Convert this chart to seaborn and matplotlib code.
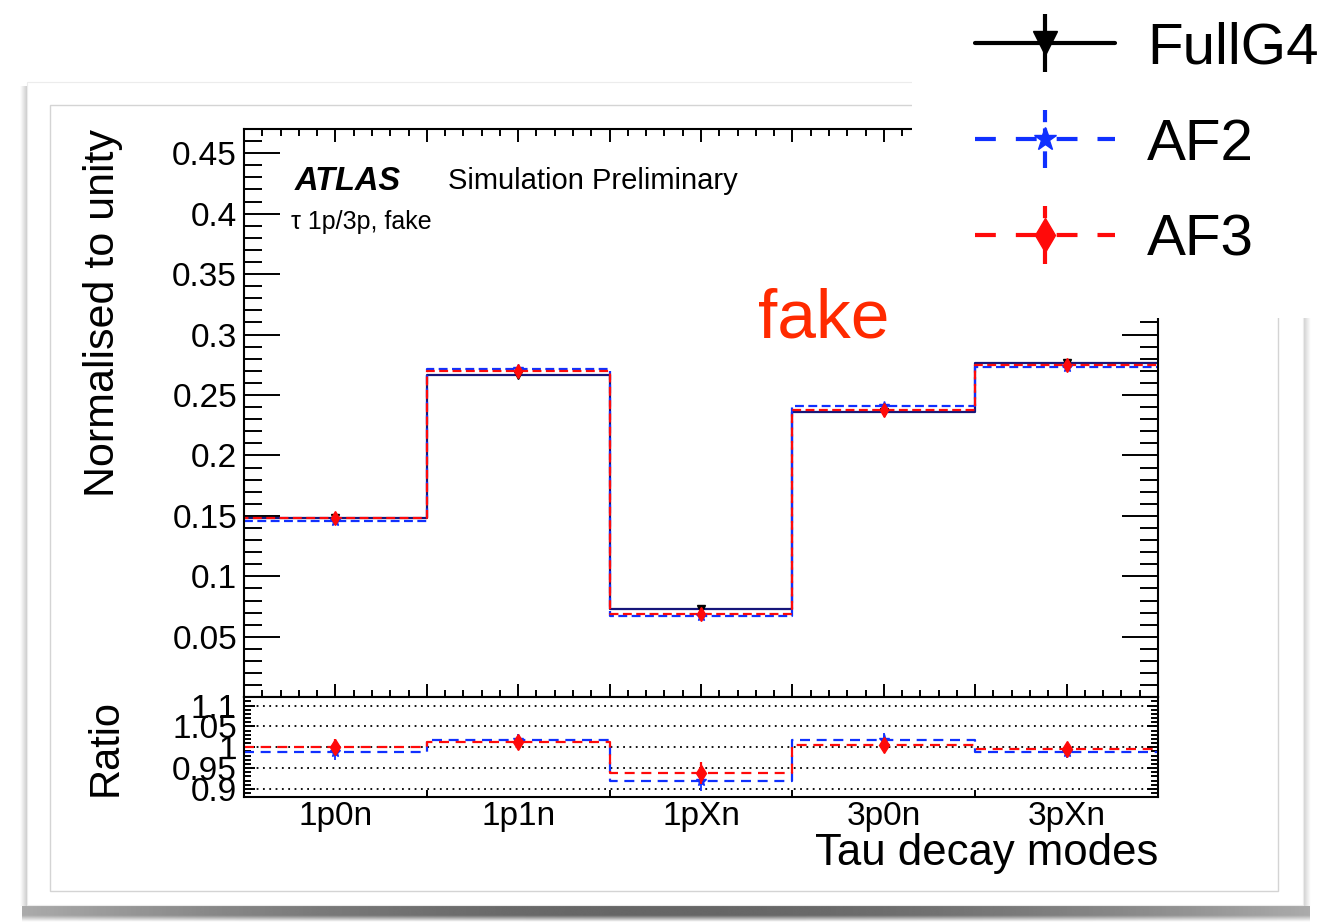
import numpy as np
import pandas as pd
import matplotlib
matplotlib.use("Agg")
import matplotlib.pyplot as plt
from matplotlib.ticker import MultipleLocator, FuncFormatter
from matplotlib.patches import Rectangle
import seaborn as sns

# ---------------------------------------------------------------- data
modes = ["1p0n", "1p1n", "1pXn", "3p0n", "3pXn"]

fullg4 = [0.1480, 0.2665, 0.0731, 0.2362, 0.2762]
af2 = [0.1462, 0.2713, 0.0671, 0.2405, 0.2733]
af3 = [0.1480, 0.2702, 0.0686, 0.2376, 0.2748]

fullg4_err = [0.0016, 0.0020, 0.0012, 0.0019, 0.0020]
af2_err = [0.0016, 0.0021, 0.0011, 0.0019, 0.0020]
af3_err = [0.0016, 0.0021, 0.0012, 0.0019, 0.0020]

ratio_af2_err = [0.018, 0.014, 0.022, 0.015, 0.014]
ratio_af3_err = [0.019, 0.014, 0.026, 0.014, 0.013]

legend_labels = ["FullG4", "AF2", "AF3"]

# ---------------------------------------------------------------- style
sns.set_style("ticks")
plt.rcParams["font.family"] = ["Liberation Sans", "DejaVu Sans"]
plt.rcParams["axes.linewidth"] = 1.5
for key in ("text.color", "axes.labelcolor", "xtick.color", "ytick.color",
            "axes.edgecolor"):
    plt.rcParams[key] = "black"

C_G4 = "#16167a"
C_AF2 = "#1030ff"
C_AF3 = "#ff0a0a"
C_FAKE = "#ff2a00"

W, H = 1322, 923
fig = plt.figure(figsize=(W / 100, H / 100), dpi=100)
fig.patch.set_facecolor("white")

# ---------------------------------------------------------------- card with drop shadow
bg = fig.add_axes([0, 0, 1, 1], zorder=-5)
bg.set_xlim(0, W)
bg.set_ylim(H, 0)
bg.axis("off")

v = np.linspace(0, 1, 40)[:, None]
hz = np.linspace(-1, 1, 300)[None, :]
pv = np.clip((1 - v) / 0.35, 0, 1)
ph = 0.55 + 0.45 * (1 - hz ** 2)
bottom_shadow = 1 - 0.6 * pv * ph
bg.imshow(bottom_shadow, cmap="gray", vmin=0, vmax=1, extent=(22, 1310, 922, 903),
          aspect="auto", interpolation="bilinear", zorder=1)
side = np.linspace(1.0, 0.78, 20)[None, :]
bg.imshow(side, cmap="gray", vmin=0, vmax=1, extent=(20, 28, 906, 86),
          aspect="auto", interpolation="bilinear", zorder=1)
bg.imshow(side[:, ::-1], cmap="gray", vmin=0, vmax=1, extent=(1302, 1311, 906, 86),
          aspect="auto", interpolation="bilinear", zorder=1)
bg.add_patch(Rectangle((27, 82), 1276, 823, facecolor="white", edgecolor="#ececec",
                       linewidth=0.8, zorder=2))
bg.add_patch(Rectangle((50, 105), 1228, 786, facecolor="none", edgecolor="#d4d4d4",
                       linewidth=1.0, zorder=3))

# ---------------------------------------------------------------- axes
ax = fig.add_axes([244 / W, 1 - 697.3 / H, 914 / W, 568.3 / H])
axr = fig.add_axes([244 / W, 1 - 797.3 / H, 914 / W, 100 / H])

edges = list(range(len(modes) + 1))
centers = [e + 0.5 for e in edges[:-1]]

g4 = np.array(fullg4)
hist_df = pd.DataFrame({
    "pos": centers,
    "fullg4": fullg4,
    "af2": af2,
    "af3": af3,
    "ratio_af2": np.array(af2) / g4,
    "ratio_af3": np.array(af3) / g4,
})


def step_hist(axis, column, color, **kws):
    sns.histplot(data=hist_df, x="pos", weights=column, bins=edges, element="step",
                 fill=False, color=color, linewidth=1.6, ax=axis, **kws)


# main panel: normalised distributions
step_hist(ax, "fullg4", C_G4)
step_hist(ax, "af2", C_AF2, linestyle=(0, (4, 2)))
step_hist(ax, "af3", C_AF3, linestyle=(2, (4, 2)))

ax.errorbar(centers, fullg4, yerr=fullg4_err, fmt="v", color="black", ms=6,
            elinewidth=1.4, capsize=0, zorder=5)
ax.errorbar(centers, af2, yerr=af2_err, fmt="*", color=C_AF2, ms=7,
            elinewidth=1.4, capsize=0, zorder=6)
ax.errorbar(centers, af3, yerr=af3_err, fmt="d", color=C_AF3, ms=7,
            elinewidth=1.4, capsize=0, zorder=7)

ax.set_xlim(0, 5)
ax.set_ylim(0, 0.47)
ax.xaxis.set_major_locator(MultipleLocator(0.5))
ax.xaxis.set_minor_locator(MultipleLocator(0.1))
ax.yaxis.set_major_locator(MultipleLocator(0.05))
ax.yaxis.set_minor_locator(MultipleLocator(0.01))
ax.yaxis.set_major_formatter(FuncFormatter(
    lambda val, pos: "" if abs(val) < 1e-9 else f"{round(val, 3):g}"))
ax.tick_params(which="both", direction="in", top=True, right=True, bottom=True, left=True,
               width=1.4, color="black", labelcolor="black")
ax.tick_params(axis="x", which="major", length=9.5, labelbottom=False)
ax.tick_params(axis="x", which="minor", length=5)
ax.tick_params(axis="y", which="major", length=26, labelsize=24, pad=5)
ax.tick_params(axis="y", which="minor", length=13)
ax.set_xlabel("")
ax.set_ylabel("Normalised to unity", fontsize=31, loc="top", color="black")
ax.yaxis.set_label_coords(-0.154, 1.0)
ax.yaxis.label.set_va("center")
for s in ax.spines.values():
    s.set_visible(True)
    s.set_linewidth(1.5)
    s.set_color("black")

ax.text(0.0558, 0.908, "ATLAS", transform=ax.transAxes, fontsize=23.5, color="black",
        fontweight="bold", fontstyle="italic", va="center", ha="left")
ax.text(0.2232, 0.908, "Simulation Preliminary", transform=ax.transAxes, fontsize=21,
        color="black", va="center", ha="left")
ax.text(0.0514, 0.8364, "\u03c4 1p/3p, fake", transform=ax.transAxes, fontsize=18,
        color="black", va="center", ha="left")

# ratio panel
axr.set_axisbelow(True)
axr.grid(axis="y", which="major", linestyle=(0, (1, 2.5)), color="black", linewidth=1.3)
step_hist(axr, "ratio_af2", C_AF2, linestyle=(0, (4.5, 3)))
step_hist(axr, "ratio_af3", C_AF3, linestyle=(0, (4.5, 3)))
axr.errorbar(centers, hist_df["ratio_af2"], yerr=ratio_af2_err, fmt="*", color=C_AF2, ms=8,
             elinewidth=1.3, capsize=0, zorder=5)
axr.errorbar(centers, hist_df["ratio_af3"], yerr=ratio_af3_err, fmt="d", color=C_AF3, ms=8,
             elinewidth=1.6, capsize=0, zorder=6)

axr.set_xlim(0, 5)
axr.set_ylim(0.88, 1.12)
axr.set_xticks(edges)
axr.set_xticks(centers, labels=modes, minor=True)
axr.yaxis.set_major_locator(MultipleLocator(0.05))
axr.yaxis.set_minor_locator(MultipleLocator(0.01))
axr.yaxis.set_major_formatter(FuncFormatter(lambda val, pos: f"{round(val, 3):g}"))
axr.tick_params(which="both", direction="in", width=1.4, color="black", labelcolor="black")
axr.tick_params(axis="x", which="major", length=5, bottom=True, top=False, labelbottom=False)
axr.tick_params(axis="x", which="minor", length=0, bottom=False, top=False,
                labelbottom=True, labelsize=24, pad=3)
axr.tick_params(axis="y", which="major", length=8, left=True, right=True, labelsize=24, pad=5)
axr.tick_params(axis="y", which="minor", length=5, left=True, right=True)
axr.set_xlabel("Tau decay modes", fontsize=31.5, loc="right", color="black")
axr.xaxis.set_label_coords(1.0, -0.567)
axr.xaxis.label.set_va("center")
axr.set_ylabel("Ratio", fontsize=30, color="black")
axr.yaxis.set_label_coords(-0.151, 0.5)
axr.yaxis.label.set_va("center")
for s in axr.spines.values():
    s.set_visible(True)
    s.set_linewidth(1.5)
    s.set_color("black")

fig.text(758 / W, 1 - 338 / H, "fake", color=C_FAKE, fontsize=50, ha="left", va="baseline")

# ---------------------------------------------------------------- legend panel
lax = fig.add_axes([912 / W, 1 - 318 / H, 410 / W, 318 / H], zorder=20)
lax.set_facecolor("white")
lax.set_xlim(0, 1)
lax.set_ylim(0, 1)
lax.set_xticks([])
lax.set_yticks([])
for s in lax.spines.values():
    s.set_visible(False)

h_g4 = lax.errorbar([5], [5], yerr=[0.1], fmt="-v", color="black", lw=3, ms=17,
                    elinewidth=3, capsize=0)
h_af2 = lax.errorbar([5], [5], yerr=[0.1], fmt="*", color=C_AF2, lw=3, ms=17,
                     linestyle=(0, (5, 4.8)), elinewidth=3, capsize=0)
h_af3 = lax.errorbar([5], [5], yerr=[0.1], fmt="d", color=C_AF3, lw=3, ms=17,
                     linestyle=(0, (5, 4.8)), elinewidth=3, capsize=0)
for h in (h_af2, h_af3):
    for coll in h[2]:
        coll.set_linestyle((0, (4, 1.5)))

leg = lax.legend([h_g4, h_af2, h_af3], legend_labels, loc="upper left",
                 bbox_to_anchor=(0.154, 0.932), fontsize=42, frameon=False,
                 handlelength=2.4, handletextpad=0.55, labelspacing=0.72,
                 borderpad=0, borderaxespad=0, numpoints=1)
for t in leg.get_texts():
    t.set_color("black")

fig.savefig("out.png", dpi=100)
